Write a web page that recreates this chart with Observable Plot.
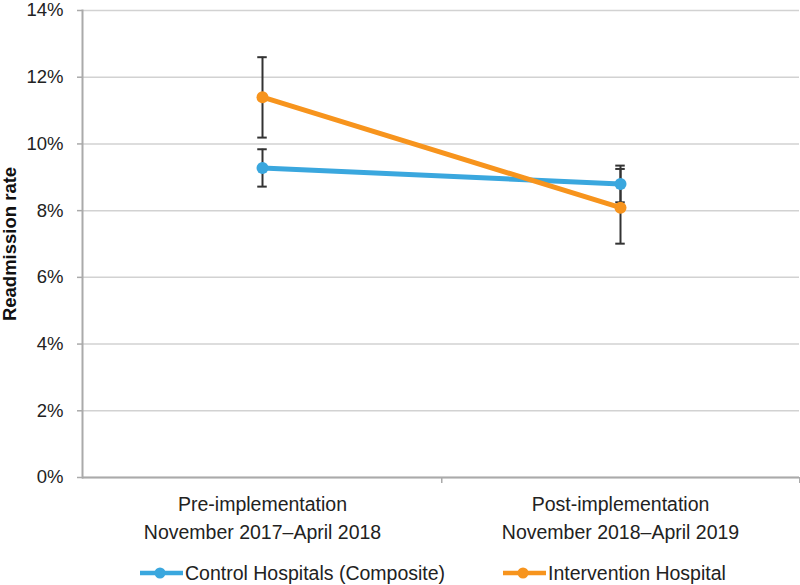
<!DOCTYPE html>
<html>
<head>
<meta charset="utf-8">
<script src="https://cdn.jsdelivr.net/npm/d3@7"></script>
<script src="https://cdn.jsdelivr.net/npm/@observablehq/plot@0.6"></script>
<style>
  body { margin: 0; background: #fff; font-family: "Liberation Sans", Arial, sans-serif; }
  #chart { width: 800px; }
  .legend { display: flex; align-items: center; height: 26px; padding-top: 10px; padding-left: 140px; font-size: 19.5px; color: #222; }
  .legend .item { display: flex; align-items: center; }
  .legend .item + .item { margin-left: 58px; }
  .legend svg { margin-right: 2px; }
</style>
</head>
<body>
<div id="chart"></div>
<script>
const periods = [
  "Pre-implementation\nNovember 2017–April 2018",
  "Post-implementation\nNovember 2018–April 2019"
];
const seriesNames = ["Control Hospitals (Composite)", "Intervention Hospital"];
const seriesColors = ["#3aa7de", "#f7941d"];
const controlRate = [9.28, 8.80];
const controlLow = [8.72, 8.25];
const controlHigh = [9.84, 9.35];
const interventionRate = [11.40, 8.09];
const interventionLow = [10.19, 7.01];
const interventionHigh = [12.60, 9.25];
const yTicks = [0, 2, 4, 6, 8, 10, 12, 14];

const rows = [];
periods.forEach((p, i) => {
  rows.push({period: p, series: seriesNames[0], rate: controlRate[i], low: controlLow[i], high: controlHigh[i]});
  rows.push({period: p, series: seriesNames[1], rate: interventionRate[i], low: interventionLow[i], high: interventionHigh[i]});
});

const W = 800, H = 550, mL = 82, mR = 1;
const bandHalf = (W - mL - mR) / 4;

const chart = Plot.plot({
  width: W,
  height: H,
  marginLeft: mL,
  marginRight: mR,
  marginTop: 10,
  marginBottom: 73,
  style: {fontFamily: "'Liberation Sans', Arial, sans-serif", fontSize: "18px", color: "#222", background: "#fff", overflow: "visible"},
  x: {type: "band", domain: periods, padding: 0, axis: null},
  y: {domain: [0, 14], axis: null},
  color: {domain: seriesNames, range: seriesColors},
  marks: [
    Plot.gridY(yTicks, {stroke: "#d2d2d2", strokeOpacity: 1, strokeWidth: 1.5}),
    Plot.axisY(yTicks, {tickFormat: d => d + "%", tickSize: 5, tickPadding: 14, stroke: "#aaa", strokeWidth: 1.5, label: null, fontSize: 18.5, fill: "#222"}),
    Plot.frame({anchor: "left", stroke: "#aaa", strokeWidth: 2}),
    Plot.ruleY([0], {stroke: "#aaa", strokeWidth: 2}),
    Plot.ruleX(periods, {x: d => d, y1: 0, y2: 0, dx: bandHalf, insetBottom: -6, stroke: "#aaa", strokeWidth: 1.5}),
    Plot.text(periods, {x: d => d, frameAnchor: "bottom", lineAnchor: "top", dy: 13, lineHeight: 1.45, fontSize: 19.5, fill: "#222", text: d => d}),
    Plot.text(["Readmission rate"], {frameAnchor: "left", textAnchor: "middle", rotate: -90, dx: -72, fontWeight: "bold", fontSize: 18.5, fill: "#111", text: d => d}),
    Plot.ruleX(rows, {x: "period", y1: "low", y2: "high", stroke: "#333", strokeWidth: 2}),
    Plot.tickY(rows, {x: "period", y: "low", stroke: "#333", strokeWidth: 2, insetLeft: bandHalf - 5, insetRight: bandHalf - 5}),
    Plot.tickY(rows, {x: "period", y: "high", stroke: "#333", strokeWidth: 2, insetLeft: bandHalf - 5, insetRight: bandHalf - 5}),
    Plot.line(rows, {x: "period", y: "rate", z: "series", stroke: "series", strokeWidth: 5}),
    Plot.dot(rows, {x: "period", y: "rate", fill: "series", r: 6})
  ]
});
document.getElementById("chart").appendChild(chart);

const legend = document.createElement("div");
legend.className = "legend";
seriesNames.forEach((name, i) => {
  const item = document.createElement("div");
  item.className = "item";
  item.innerHTML = `<svg width="43" height="14"><line x1="0" y1="7" x2="43" y2="7" stroke="${seriesColors[i]}" stroke-width="4.5"/><circle cx="20" cy="7" r="5.5" fill="${seriesColors[i]}"/></svg><span>${name}</span>`;
  legend.appendChild(item);
});
document.getElementById("chart").appendChild(legend);
</script>
</body>
</html>
